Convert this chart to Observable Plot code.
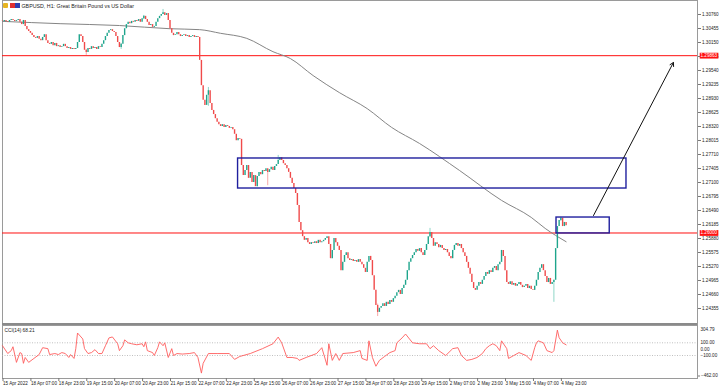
<!DOCTYPE html>
<html><head><meta charset="utf-8">
<script src="https://cdn.jsdelivr.net/npm/d3@7"></script>
<script src="https://cdn.jsdelivr.net/npm/@observablehq/plot@0.6"></script>
<style>
body{margin:0;background:#fff;}
#wrap{position:relative;width:720px;height:388px;overflow:hidden;background:#fff;font-family:"Liberation Sans",Arial,sans-serif;}
#main{position:absolute;left:0;top:0;}
#ind{position:absolute;left:0;top:324px;}
.sep{position:absolute;left:2px;top:323px;width:695px;height:2px;background:#8a8a8a;}
.ic{position:absolute;top:3px;width:5px;height:5px;}
</style></head><body>
<div id="wrap"><div id="main"></div><div id="ind"></div><div class="sep"></div>
<span class="ic" style="left:3px;background:#e6b422;border-radius:1px"></span>
<span class="ic" style="left:10px;background:#e03030"></span>
<span class="ic" style="left:15px;background:#2f3fb0"></span>
</div>
<script>
const title = "GBPUSD, H1: Great Britain Pound vs US Dollar";
const cciLabel = "CCI(14) 68.21";
// hourly closes (H1), one row per 16 candles
const closes = [
1.3061,1.3063,1.3061,1.3059,1.3063,1.3065,1.3063,1.3061,1.3063,1.3065,1.3059,1.3054,1.3063,1.3050,1.3043,1.3039,
1.3035,1.3030,1.3026,1.3024,1.3028,1.3022,1.3019,1.3026,1.3032,1.3019,1.3013,1.3011,1.3015,1.3008,1.3013,1.3006,
1.3008,1.3004,1.3006,1.3011,1.3006,1.3002,1.3004,1.3000,1.3002,1.3000,1.3002,1.3015,1.3032,1.3028,1.3015,1.2998,
1.2993,1.3002,1.3000,1.3006,1.3002,1.3004,1.3000,1.3006,1.3004,1.3011,1.3019,1.3028,1.3035,1.3041,1.3043,1.3039,
1.3037,1.3028,1.3015,1.3004,1.3011,1.3030,1.3045,1.3054,1.3059,1.3056,1.3061,1.3059,1.3063,1.3061,1.3065,1.3059,
1.3067,1.3072,1.3065,1.3059,1.3052,1.3054,1.3048,1.3050,1.3059,1.3067,1.3072,1.3076,1.3080,1.3074,1.3078,1.3063,
1.3045,1.3035,1.3030,1.3032,1.3037,1.3032,1.3028,1.3030,1.3032,1.3028,1.3030,1.3026,1.3028,1.3030,1.3026,1.3028,
1.3026,1.2976,1.2921,1.2889,1.2878,1.2900,1.2910,1.2882,1.2867,1.2858,1.2849,1.2841,1.2836,1.2832,1.2836,1.2830,
1.2834,1.2832,1.2828,1.2830,1.2825,1.2815,1.2801,1.2806,1.2804,1.2747,1.2725,1.2736,1.2747,1.2719,1.2732,1.2710,
1.2725,1.2701,1.2723,1.2732,1.2727,1.2736,1.2734,1.2740,1.2732,1.2738,1.2743,1.2736,1.2745,1.2749,1.2758,1.2764,
1.2758,1.2751,1.2747,1.2740,1.2732,1.2719,1.2708,1.2697,1.2686,1.2660,1.2623,1.2605,1.2592,1.2584,1.2588,1.2579,
1.2575,1.2579,1.2577,1.2581,1.2577,1.2584,1.2579,1.2581,1.2584,1.2588,1.2592,1.2575,1.2544,1.2562,1.2588,1.2579,
1.2571,1.2562,1.2518,1.2536,1.2551,1.2557,1.2544,1.2540,1.2542,1.2538,1.2540,1.2536,1.2542,1.2536,1.2531,1.2523,
1.2514,1.2536,1.2549,1.2540,1.2507,1.2475,1.2442,1.2427,1.2436,1.2440,1.2446,1.2440,1.2449,1.2444,1.2453,1.2449,
1.2457,1.2462,1.2470,1.2475,1.2466,1.2479,1.2486,1.2497,1.2518,1.2536,1.2544,1.2551,1.2557,1.2564,1.2560,1.2566,
1.2557,1.2551,1.2562,1.2575,1.2592,1.2601,1.2588,1.2571,1.2579,1.2575,1.2568,1.2573,1.2566,1.2562,1.2564,1.2557,
1.2549,1.2544,1.2562,1.2573,1.2577,1.2571,1.2575,1.2566,1.2557,1.2549,1.2536,1.2523,1.2510,1.2492,1.2479,1.2475,
1.2484,1.2492,1.2488,1.2497,1.2505,1.2514,1.2510,1.2518,1.2514,1.2523,1.2527,1.2518,1.2531,1.2536,1.2562,1.2549,
1.2518,1.2492,1.2488,1.2494,1.2486,1.2490,1.2484,1.2488,1.2492,1.2486,1.2481,1.2484,1.2488,1.2479,1.2484,1.2477,
1.2475,1.2484,1.2497,1.2514,1.2523,1.2531,1.2518,1.2505,1.2492,1.2501,1.2488,1.2492,1.2497,1.2566,1.2614,1.2627,
1.2632,1.2614,1.2623,1.2616
];
const firstOpen = 1.3062;
// notable wicks
const wickIdx  = [48, 68, 81, 92, 118, 152, 158, 215, 245, 316, 320];
const wickHigh = [1.3000,1.3013,1.3074,1.3087,1.2917,1.2734,1.2769,1.2445,1.2610,1.2497,1.2634];
const wickLow  = [1.2987,1.3000,1.3065,1.3076,1.2876,1.2703,1.2755,1.2418,1.2590,1.2449,1.2625];
// moving average (gray), sampled
const maIdx = [0,33,67,96,113,125,140,155,165,178,193,209,223,239,262,286,303,311,323];
const maVal = [1.3061,1.3056,1.3052,1.3045,1.3043,1.3035,1.3024,1.2995,1.2980,1.2943,1.2906,1.2871,1.2830,1.2795,1.2736,1.2671,1.2634,1.2610,1.2581];
// CCI(14)
const cciIdx = [0,3,5,6,8,10,11,12,13,15,18,21,23,26,27,30,32,34,36,38,39,41,42,43,46,47,49,51,53,55,57,59,61,63,66,67,69,70,72,74,77,80,81,82,83,86,87,89,90,92,93,95,97,98,100,103,107,110,112,114,115,118,123,130,133,136,142,149,155,158,160,163,166,169,170,174,180,183,186,187,189,191,193,195,201,205,206,209,210,212,214,216,219,222,225,226,229,231,235,239,243,245,247,250,254,258,261,263,266,269,272,275,277,279,281,283,285,286,289,290,293,296,300,303,305,306,307,310,312,315,316,318,319,321,323];
const cciVal = [54,-69,-23,38,-208,-54,-69,-223,-131,-208,-146,-85,23,8,-85,-69,-85,-54,-69,-131,-85,-146,8,254,161,8,-69,-54,-8,-69,-69,54,177,192,85,-23,54,146,100,85,69,85,38,115,-23,-54,-100,23,115,54,100,-131,8,-100,-69,-77,-69,-54,-131,-377,-223,-69,-69,-69,-161,-115,-69,8,85,190,100,-131,-131,-146,-177,-131,-69,23,-254,85,-177,-69,-177,-69,-54,-23,-146,-177,131,-131,-269,-177,-115,-54,-23,100,177,238,100,85,85,8,54,-23,-100,8,23,-100,-177,-161,-131,-69,8,54,85,54,-23,131,8,-146,-100,-54,-100,-177,23,100,131,100,-23,-54,-23,300,180,100,68.21];
const cciLevels = [100, -100];
const cciTicks = [304.79, 100, 0, -100];
const cciMin = -462;
// price axis
const priceTicks = [1.24355,1.24660,1.24965,1.25270,1.25575,1.25880,1.26185,1.26490,1.26795,1.27100,1.27405,1.27710,1.28015,1.28320,1.28625,1.28930,1.29235,1.29540,1.29845,1.30150,1.30455,1.30760];
const levels = [1.29863, 1.26000];
// time axis (hour index of each label)
const timeTickIdx = [0,16,32,48,64,80,96,112,128,144,160,176,192,208,224,240,256,272,288,304,320];
const timeLabels = ["15 Apr 2022","18 Apr 07:00","18 Apr 23:00","19 Apr 15:00","20 Apr 07:00","20 Apr 23:00","21 Apr 15:00","22 Apr 07:00","22 Apr 23:00","25 Apr 15:00","26 Apr 07:00","26 Apr 23:00","27 Apr 15:00","28 Apr 07:00","28 Apr 23:00","29 Apr 15:00","2 May 07:00","2 May 23:00","3 May 15:00","4 May 07:00","4 May 23:00"];
// annotations
const zoneStart = [135, 317.5];
const zoneEnd   = [357.6, 348];
const zoneTop   = [1.27623, 1.26337];
const zoneBottom= [1.26969, 1.25990];
const arrowFrom = {i: 338.7, p: 1.26381};
const arrowTo   = {i: 384.5, p: 1.29714};

const xDomain = [0, 398.3];
const xRange = [2, 697];
const BULL = "#1ea58c", BEAR = "#f04a4a";

const candles = closes.map((c, i) => ({i, open: i ? closes[i-1] : firstOpen, close: c}));
const wicks = wickIdx.map((i, k) => ({i, high: wickHigh[k], low: wickLow[k], up: candles[i].close >= candles[i].open}));
const ma = maIdx.map((i, k) => ({i, v: maVal[k]}));
const cci = cciIdx.map((i, k) => ({i, v: cciVal[k]}));
const zones = zoneStart.map((s, k) => ({s, e: zoneEnd[k], t: zoneTop[k], b: zoneBottom[k]}));

const font = "Liberation Sans, Arial, sans-serif";

const main = Plot.plot({
  width: 720, height: 324,
  marginLeft: 2, marginRight: 23, marginTop: 0, marginBottom: 0,
  style: {fontFamily: font, background: "transparent", overflow: "visible"},
  x: {domain: xDomain, range: xRange, axis: null},
  y: {domain: [1.240064, 1.31065], range: [324, 0], axis: null},
  marks: [
    Plot.frame({stroke: "#9a9a9a"}),
    Plot.ruleY(levels, {stroke: "#ff1010", strokeWidth: 1}),
    Plot.line(ma, {x: "i", y: "v", curve: "monotone-x", stroke: "#858585", strokeWidth: 1}),
    Plot.ruleX(wicks, {x: "i", y1: "low", y2: "high", stroke: d => d.up ? "#8fd6c8" : "#f7a8a8", strokeWidth: 1}),
    Plot.ruleX(candles, {x: "i", y1: "open", y2: "close", stroke: d => d.close >= d.open ? BULL : BEAR, strokeWidth: 1.4}),
    Plot.rect(zones, {x1: "s", x2: "e", y1: "b", y2: "t", fill: "none", stroke: "#1f1f9e", strokeWidth: 1.4}),
    Plot.arrow([0], {x1: () => arrowFrom.i, y1: () => arrowFrom.p, x2: () => arrowTo.i, y2: () => arrowTo.p, stroke: "#111", strokeWidth: 1, headLength: 6}),
    Plot.axisY({anchor: "right", label: null, ticks: priceTicks, tickFormat: d3.format(".5f"), tickSize: 3, tickPadding: 1.5, fontSize: 4.6, stroke: "#777", fill: "#222"}),
    Plot.text(levels, {y: d => d, frameAnchor: "right", dx: 3, textAnchor: "start", text: d => d3.format(".5f")(d), fill: "white", fontSize: 4.6, className: "lvl"}),
    Plot.text([title], {frameAnchor: "top-left", dx: 19, dy: 3.5, lineAnchor: "top", textAnchor: "start", text: d => d, fontSize: 5.3, fill: "#222"})
  ]
});
document.getElementById("main").appendChild(main);

const ind = Plot.plot({
  width: 720, height: 64,
  marginLeft: 2, marginRight: 23, marginTop: 1, marginBottom: 10,
  style: {fontFamily: font, background: "transparent", overflow: "visible"},
  x: {domain: xDomain, range: xRange, axis: null},
  y: {domain: [cciMin, 304.79], range: [54, 5.3], axis: null},
  marks: [
    Plot.frame({stroke: "#9a9a9a"}),
    Plot.ruleY(cciLevels, {stroke: "#b0b0b0", strokeDasharray: "1,1.5", strokeWidth: 0.8}),
    Plot.line(cci, {x: "i", y: "v", stroke: "#ff5c5c", strokeWidth: 0.9, curve: "linear"}),
    Plot.axisY({anchor: "right", label: null, ticks: cciTicks, tickFormat: d3.format(".2f"), tickSize: 0, tickPadding: 3, fontSize: 4.6, fill: "#222"}),
    Plot.axisY({anchor: "right", label: null, ticks: [cciMin], tickFormat: d3.format(".2f"), tickSize: 2, tickPadding: 1.5, dy: -2.5, fontSize: 4.6, fill: "#222", stroke: "#777"}),
    Plot.axisX({label: null, ticks: timeTickIdx, tickFormat: d => timeLabels[timeTickIdx.indexOf(d)], tickSize: 3, tickPadding: 0.5, textAnchor: "start", dx: 0.5, fontSize: 4.6, fill: "#222", stroke: "#777"}),
    Plot.text([cciLabel], {frameAnchor: "top-left", dx: 2, dy: 3, lineAnchor: "top", textAnchor: "start", text: d => d, fontSize: 4.8, fill: "#222"})
  ]
});
document.getElementById("ind").appendChild(ind);

// red background behind the level price labels
main.querySelectorAll("g.lvl text").forEach(t => {
  const b = t.getBBox();
  const r = document.createElementNS("http://www.w3.org/2000/svg", "rect");
  r.setAttribute("x", b.x - 0.8); r.setAttribute("y", b.y - 0.4);
  r.setAttribute("width", b.width + 1.6); r.setAttribute("height", b.height + 0.8);
  r.setAttribute("fill", "#ff1010");
  if (t.getAttribute("transform")) r.setAttribute("transform", t.getAttribute("transform"));
  t.parentNode.insertBefore(r, t);
});
</script>
</body></html>
